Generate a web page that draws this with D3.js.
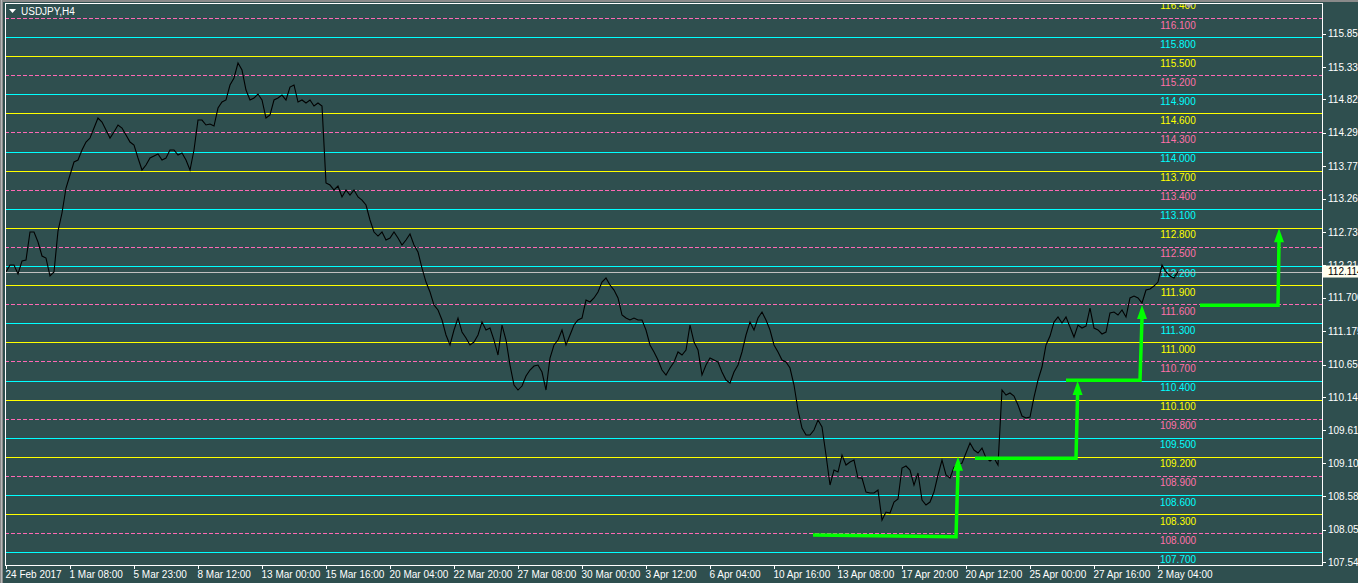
<!DOCTYPE html>
<html><head><meta charset="utf-8">
<script src="https://cdn.jsdelivr.net/npm/d3@7"></script>
<style>html,body{margin:0;padding:0;background:#2f4f4f;overflow:hidden}</style>
</head><body><svg id="c" width="1358" height="583"></svg>
<script>
const symbolTitle = "USDJPY,H4";
const closes = [
112.107,112.217,112.217,112.075,112.279,112.295,112.735,112.735,112.578,112.358,
112.326,112.044,112.107,112.751,113.034,113.427,113.632,113.836,113.867,114.025,
114.150,114.213,114.370,114.528,114.465,114.339,114.213,114.308,114.418,114.370,
114.260,114.150,114.103,113.899,113.710,113.789,113.899,113.930,113.962,113.867,
113.899,114.025,114.025,113.946,113.977,113.867,113.710,114.025,114.496,114.496,
114.418,114.433,114.402,114.685,114.779,114.811,115.047,115.157,115.392,115.282,
114.968,114.811,114.842,114.905,114.811,114.528,114.575,114.811,114.842,114.889,
114.811,115.015,115.047,114.779,114.811,114.763,114.811,114.716,114.763,114.716,
113.506,113.474,113.396,113.458,113.286,113.396,113.317,113.396,113.286,113.238,
113.160,112.924,112.735,112.672,112.735,112.610,112.641,112.735,112.641,112.531,
112.610,112.704,112.531,112.421,112.169,111.949,111.792,111.587,111.509,111.352,
111.116,110.959,111.195,111.383,111.163,111.069,110.959,111.006,111.116,111.320,
111.195,111.226,111.037,110.801,111.273,111.037,110.644,110.330,110.251,110.314,
110.471,110.566,110.628,110.644,110.534,110.251,110.754,110.959,111.037,111.195,
110.959,111.116,111.273,111.352,111.383,111.666,111.635,111.698,111.792,111.949,
112.012,111.902,111.823,111.698,111.430,111.383,111.352,111.383,111.352,111.352,
111.195,110.959,110.849,110.723,110.566,110.487,110.597,110.691,110.849,110.801,
110.880,111.273,111.006,110.880,110.487,110.644,110.754,110.723,110.691,110.534,
110.408,110.361,110.534,110.644,110.849,111.116,111.320,111.195,111.383,111.477,
111.352,111.195,110.959,110.849,110.723,110.691,110.597,110.330,109.937,109.654,
109.544,109.544,109.622,109.779,109.669,109.229,108.757,108.993,108.962,109.229,
109.072,109.119,109.150,108.867,108.867,108.647,108.632,108.632,108.679,108.207,
108.333,108.317,108.490,108.537,109.025,109.056,108.993,108.757,108.946,108.522,
108.443,108.490,108.647,108.915,109.150,108.915,108.867,109.040,109.072,109.103,
109.261,109.418,109.308,109.261,109.339,109.182,109.135,109.182,109.072,110.251,
110.172,110.204,110.157,110.015,109.842,109.811,109.826,110.141,110.408,110.613,
110.959,111.100,111.320,111.399,111.304,111.399,111.242,111.084,111.273,111.226,
111.257,111.540,111.226,111.195,111.132,111.163,111.462,111.477,111.430,111.509,
111.399,111.698,111.729,111.698,111.619,111.823,111.839,111.886,111.949,112.217,
112.107,112.044,112.012,112.114
];
const timeTickBars = [0,16,32,48,64,80,96,112,128,144,160,176,192,208,224,240,256,272,288];
const timeTickLabels = ["24 Feb 2017","1 Mar 08:00","5 Mar 23:00","8 Mar 12:00","13 Mar 00:00",
  "15 Mar 16:00","20 Mar 04:00","22 Mar 20:00","27 Mar 08:00","30 Mar 00:00","3 Apr 12:00",
  "6 Apr 04:00","10 Apr 16:00","13 Apr 08:00","17 Apr 20:00","20 Apr 12:00","25 Apr 00:00",
  "27 Apr 16:00","2 May 04:00"];
const priceTicks = [115.855,115.330,114.820,114.295,113.770,113.260,112.735,112.210,111.700,
  111.175,110.650,110.140,109.615,109.105,108.580,108.055,107.545];
const currentPrice = 112.114;
const yellowLevels = [116.4,115.5,114.6,113.7,112.8,111.9,111.0,110.1,109.2,108.3];
const pinkLevels   = [116.1,115.2,114.3,113.4,112.5,111.6,110.7,109.8,108.9,108.0];
const cyanLevels   = [115.8,114.9,114.0,113.1,112.2,111.3,110.4,109.5,108.6,107.7];
const arrowBars   = [[201.75,237.5,238],[242.25,267.5,267.9],[265,283.5,284],[298.5,318,318.25]];
const arrowPrices = [[107.97,107.945,109.2],[109.177,109.177,110.393],[110.404,110.404,111.587],[111.583,111.583,112.793]];

const W = 1358, H = 583;
const L = 5, R = 1322, T = 3, B = 565;
const svg = d3.select("#c");
const font = "'Liberation Sans', Arial, sans-serif";

svg.append("rect").attr("width", W).attr("height", H).attr("fill", "#2f4f4f");
// window frame
svg.append("rect").attr("x",0).attr("y",0).attr("width",W).attr("height",2).attr("fill","#8a8a8a");
svg.append("rect").attr("x",0).attr("y",0).attr("width",3).attr("height",H).attr("fill","#8a8a8a");
svg.append("rect").attr("x",1).attr("y",0).attr("width",1).attr("height",H).attr("fill","#b8b8b8");

const xs = d3.scaleLinear().domain([0, 329]).range([6, 1322]);
const ys = d3.scaleLinear().domain([107.5, 116.336]).range([B, T]);

svg.append("clipPath").attr("id","plot").append("rect")
  .attr("x", L).attr("y", T).attr("width", R - L).attr("height", B - T);
const g = svg.append("g").attr("clip-path", "url(#plot)");

const fmt = d3.format(".3f");
const labelX = xs(closes.length - 1);
const levelSets = [
  {vals: yellowLevels, color: "#ffff00", text: "#ffff00", dash: null},
  {vals: pinkLevels, color: "#ff69b4", text: "#ff6fa8", dash: "4,2"},
  {vals: cyanLevels, color: "#00ffff", text: "#00ffff", dash: null}
];
levelSets.forEach(s => {
  s.vals.forEach(v => {
    const y = Math.round(ys(v)) + 0.5;
    g.append("line").attr("x1", L).attr("x2", R).attr("y1", y).attr("y2", y)
      .attr("stroke", s.color).attr("stroke-width", 1)
      .attr("stroke-dasharray", s.dash).attr("shape-rendering","crispEdges");
  });
});
levelSets.forEach(s => {
  s.vals.forEach(v => {
    g.append("text").attr("x", labelX).attr("y", ys(v) + 10.5)
      .attr("text-anchor","middle").attr("font-family", font).attr("font-size", 10)
      .attr("fill", s.text).text(fmt(v));
  });
});

// current price line
const cy = Math.round(ys(currentPrice)) + 0.5;
g.append("line").attr("x1", L).attr("x2", R).attr("y1", cy).attr("y2", cy)
  .attr("stroke", "#c0c0c0").attr("shape-rendering","crispEdges");

// price line
const line = d3.line().x((d, i) => xs(i)).y(d => ys(d));
g.append("path").datum(closes).attr("d", line).attr("fill","none")
  .attr("stroke","#000").attr("stroke-width",1.1);

// green arrows
arrowBars.forEach((bars, k) => {
  const pr = arrowPrices[k];
  const pts = bars.map((b, i) => [xs(b), ys(pr[i])]);
  const tip = pts[2];
  const headLen = 14, half = 5;
  const shaftEnd = [tip[0], tip[1] + headLen - 1];
  g.append("path").attr("d", d3.line()([pts[0], pts[1], shaftEnd]))
    .attr("fill","none").attr("stroke","#00ff00").attr("stroke-width",3.5)
    .attr("stroke-linejoin","miter");
  g.append("path").attr("d", d3.line()([tip, [tip[0]-half, tip[1]+headLen], [tip[0]+half, tip[1]+headLen]]) + "Z")
    .attr("fill","#00ff00");
});

// chart shift marker
svg.append("path").attr("d", "M1184,3 L1194,3 L1189,8 Z").attr("fill","#a0a0a0");

// frame
svg.append("rect").attr("x", L + 0.5).attr("y", T + 0.5).attr("width", R - L).attr("height", B - T)
  .attr("fill","none").attr("stroke","#fff").attr("shape-rendering","crispEdges");

// right axis
priceTicks.forEach(v => {
  const y = Math.round(ys(v)) + 0.5;
  svg.append("line").attr("x1", R).attr("x2", R + 4).attr("y1", y).attr("y2", y)
    .attr("stroke","#fff").attr("shape-rendering","crispEdges");
  svg.append("text").attr("x", R + 6).attr("y", ys(v) + 3.6).attr("font-family", font)
    .attr("font-size", 10).attr("fill","#fff").text(fmt(v));
});
svg.append("rect").attr("x", R + 1).attr("y", ys(currentPrice) - 6).attr("width", 40).attr("height", 12)
  .attr("fill","#fffff0");
svg.append("text").attr("x", R + 6).attr("y", ys(currentPrice) + 3.6).attr("font-family", font)
  .attr("font-size", 10).attr("fill","#000").text(fmt(currentPrice));

// bottom axis
timeTickBars.forEach((b, i) => {
  const x = Math.round(xs(b)) + 0.5;
  svg.append("line").attr("x1", x).attr("x2", x).attr("y1", B).attr("y2", B + 4)
    .attr("stroke","#fff").attr("shape-rendering","crispEdges");
  svg.append("text").attr("x", x - 1).attr("y", B + 13).attr("font-family", font)
    .attr("font-size", 10).attr("fill","#fff").text(timeTickLabels[i]);
});

// title
svg.append("path").attr("d","M9,9 L16,9 L12.5,13 Z").attr("fill","#fff");
svg.append("text").attr("x", 21).attr("y", 15).attr("font-family", font)
  .attr("font-size", 10).attr("fill","#fff").text(symbolTitle);
</script></body></html>
